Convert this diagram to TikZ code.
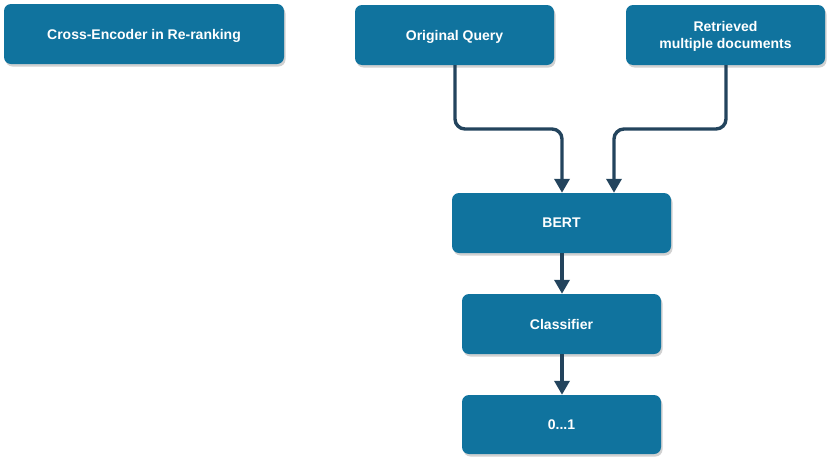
\documentclass[tikz,border=0pt]{standalone}
\usepackage{fontspec}
\setmainfont{Liberation Sans}
\usetikzlibrary{shadows,arrows.meta}
\definecolor{boxblue}{HTML}{10739E}
\definecolor{arrowc}{HTML}{23445D}
\tikzset{
  bx/.style={rectangle, rounded corners=7pt, fill=boxblue, draw=none,
    text=white, font=\fontsize{14}{17}\selectfont\bfseries, align=center,
    inner sep=0pt, text depth=0pt,
    drop shadow={shadow xshift=1.5pt, shadow yshift=-2.5pt, opacity=0.3, fill=black!60}},
  conn/.style={draw=arrowc, line width=3.4pt, rounded corners=10pt,
    -{Triangle[length=14pt,width=15pt]}}
}
\begin{document}
\begin{tikzpicture}[x=1pt,y=-1pt]
\useasboundingbox (0,0) rectangle (831,461);
\node[bx, minimum width=280pt, minimum height=60pt] (title) at (144,34) {Cross-Encoder in Re-ranking};
\node[bx, minimum width=199pt, minimum height=60pt] (query) at (454.5,35) {Original Query};
\node[bx, minimum width=199pt, minimum height=60pt] (docs) at (725.5,35) {Retrieved\\multiple documents};
\node[bx, minimum width=219pt, minimum height=60pt] (bert) at (561.5,223) {BERT};
\node[bx, minimum width=199pt, minimum height=60pt] (clf) at (561.5,324) {Classifier};
\node[bx, minimum width=199pt, minimum height=59pt] (out) at (561.5,424.5) {0...1};
\coordinate (q1) at (455,129);
\coordinate (d1) at (726,129);
\draw[conn] (query.south -| q1) -- (q1) -- (q1 -| 562,0) -- (bert.north -| 562,0);
\draw[conn] (docs.south -| d1) -- (d1) -- (d1 -| 614,0) -- (bert.north -| 614,0);
\draw[conn] (bert.south -| 562,0) -- (clf.north -| 562,0);
\draw[conn] (clf.south -| 562,0) -- (out.north -| 562,0);
\end{tikzpicture}
\end{document}
